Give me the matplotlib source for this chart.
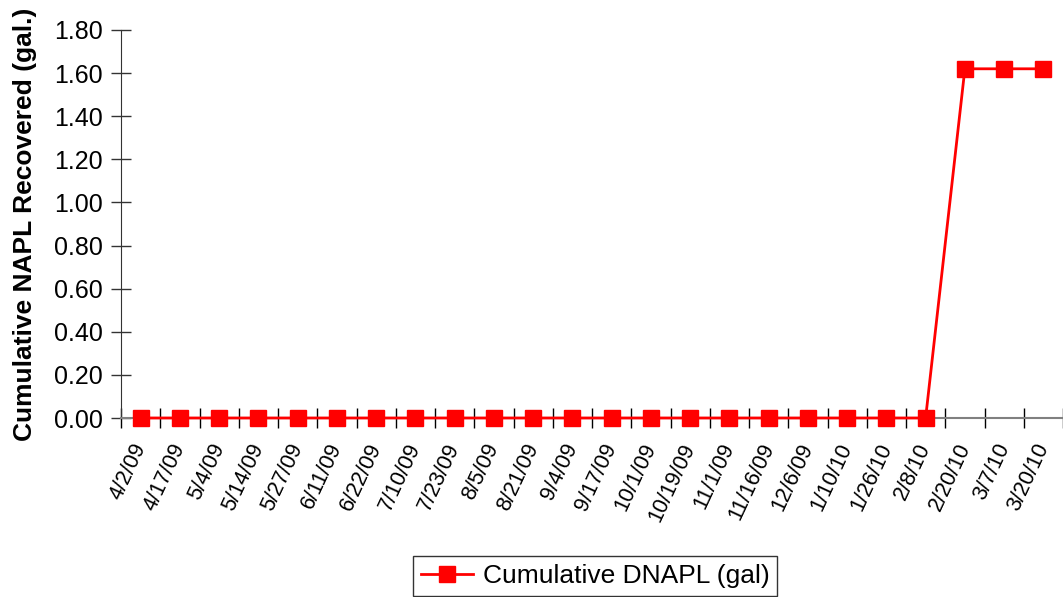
import matplotlib
matplotlib.use("Agg")
import matplotlib.pyplot as plt
import numpy as np

dates = ["4/2/09", "4/17/09", "5/4/09", "5/14/09", "5/27/09", "6/11/09", "6/22/09",
         "7/10/09", "7/23/09", "8/5/09", "8/21/09", "9/4/09", "9/17/09", "10/1/09",
         "10/19/09", "11/1/09", "11/16/09", "12/6/09", "1/10/10", "1/26/10", "2/8/10",
         "2/20/10", "3/7/10", "3/20/10"]
dnapl = [0.0] * 21 + [1.62, 1.62, 1.62]
yticks = [0.0, 0.2, 0.4, 0.6, 0.8, 1.0, 1.2, 1.4, 1.6, 1.8]

plt.rcParams['font.family'] = ['Liberation Sans', 'DejaVu Sans']

fig = plt.figure(figsize=(10.63, 5.97), dpi=100)
ax = fig.add_axes([121/1063, 1 - 418/597, 1 - 121/1063, (418 - 30)/597])

x = np.arange(len(dates))
ax.plot(x, dnapl, color='#ff0000', lw=2, marker='s', markersize=11.5,
        markerfacecolor='#ff0000', markeredgecolor='#ff0000',
        label='Cumulative DNAPL (gal)', clip_on=False, zorder=3)

ax.set_xlim(-0.5, len(dates) - 0.5)
ax.set_ylim(0, 1.8)
ax.set_yticks(yticks)
ax.set_yticklabels([f"{v:.2f}" for v in yticks], fontsize=18)

ax.set_xticks(x)
ax.set_xticklabels(dates, rotation=65, ha='right', va='center', fontsize=15.5,
                   rotation_mode='anchor')
ax.set_xticks(np.arange(-0.5, len(dates) + 0.5, 1), minor=True)
ax.tick_params(axis='x', which='major', length=0, pad=19)
ax.tick_params(axis='x', which='minor', direction='inout', length=14, width=1, color='black')
ax.tick_params(axis='y', direction='inout', length=14, width=1, color='#333333', pad=6)

for s in ['top', 'right']:
    ax.spines[s].set_visible(False)
ax.spines['left'].set_color('#333333')
ax.spines['bottom'].set_color('#808080')
ax.spines['bottom'].set_linewidth(1.5)

ax.set_ylabel('Cumulative NAPL Recovered (gal.)', fontsize=19, fontweight='bold', labelpad=12)

leg = fig.legend(loc='center', bbox_to_anchor=(595/1063, 1 - 576/597), fontsize=19,
                 frameon=True, fancybox=False, handlelength=2.0, borderpad=0.3,
                 handletextpad=0.35)
leg.get_frame().set_edgecolor('black')
leg.get_frame().set_linewidth(1)

fig.savefig('out.png', dpi=100)
